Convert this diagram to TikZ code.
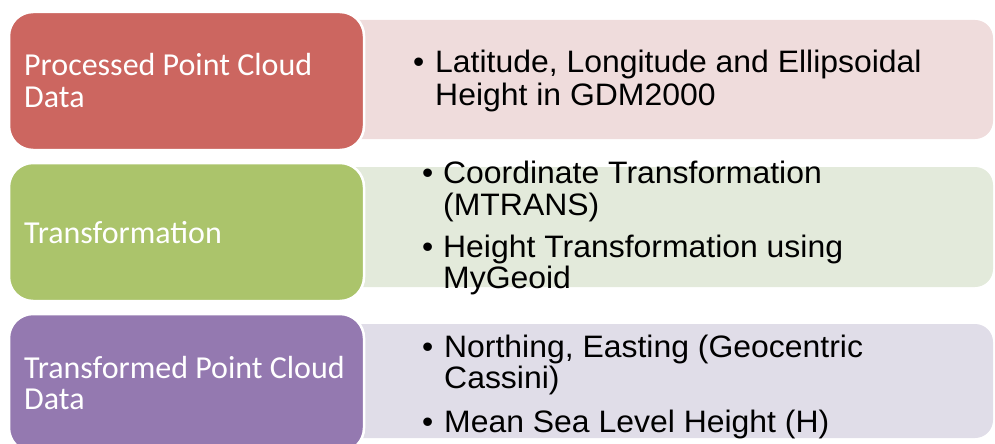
\documentclass[tikz,border=0pt]{standalone}
\usepackage{fontspec}
\setmainfont{Liberation Sans}
\newfontfamily\rtfont[FakeStretch=1.03]{Liberation Sans}
\newfontfamily\lblfont{Carlito}
\definecolor{rbox}{HTML}{CC6660}
\definecolor{rpan}{HTML}{EFDCDC}
\definecolor{gbox}{HTML}{ABC46B}
\definecolor{gpan}{HTML}{E3EADB}
\definecolor{pbox}{HTML}{9479B0}
\definecolor{ppan}{HTML}{E0DDE8}
\begin{document}
\begin{tikzpicture}[x=1pt,y=-1pt,
  lefttxt/.style={anchor=base west, inner sep=0pt, text=white, font=\lblfont\fontsize{32}{38}\selectfont},
  righttxt/.style={anchor=base west, inner sep=0pt, text=black, font=\rtfont\fontsize{31}{36}\selectfont},
  panel/.style={rounded corners=18pt},
  leftbox/.style={draw=white, line width=2.5pt, rounded corners=24pt}]
\useasboundingbox (0,0) rectangle (995,444);
\clip (0,0) rectangle (995,444);
% right panels
\fill[rpan, panel] (330,20) rectangle (993,139);
\fill[gpan, panel] (330,167) rectangle (993,287);
\fill[ppan, panel] (330,324) rectangle (993,438);
% left boxes
\filldraw[fill=rbox, leftbox] (9,12) rectangle (364,150);
\filldraw[fill=gbox, leftbox] (9,163) rectangle (364,301);
\filldraw[fill=pbox, leftbox] (9,314) rectangle (364,452);
% left labels
\node[lefttxt] (r1) at (24,75) {Processed Point Cloud};
\node[lefttxt] (r2) at (24,107) {Data};
\node[lefttxt] (g1) at (24,243) {Transformation};
\node[lefttxt] (p1) at (24,378) {Transformed Point Cloud};
\node[lefttxt] (p2) at (24,409) {Data};
% right texts
\node[righttxt] (ra1) at (413,73) {\makebox[22pt][l]{•}Latitude, Longitude and Ellipsoidal};
\node[righttxt] (ra2) at (435,105) {Height in GDM2000};
\node[righttxt] (ga1) at (422,183) {\makebox[21pt][l]{•}Coordinate Transformation};
\node[righttxt] (ga2) at (443,215) {(MTRANS)};
\node[righttxt] (gb1) at (422,257) {\makebox[21pt][l]{•}Height Transformation using};
\node[righttxt] (gb2) at (443,288) {MyGeoid};
\node[righttxt] (pa1) at (422,357) {\makebox[22pt][l]{•}Northing, Easting (Geocentric};
\node[righttxt] (pa2) at (444,388) {Cassini)};
\node[righttxt] (pb1) at (422,432) {\makebox[22pt][l]{•}Mean Sea Level Height (H)};
\end{tikzpicture}
\end{document}
